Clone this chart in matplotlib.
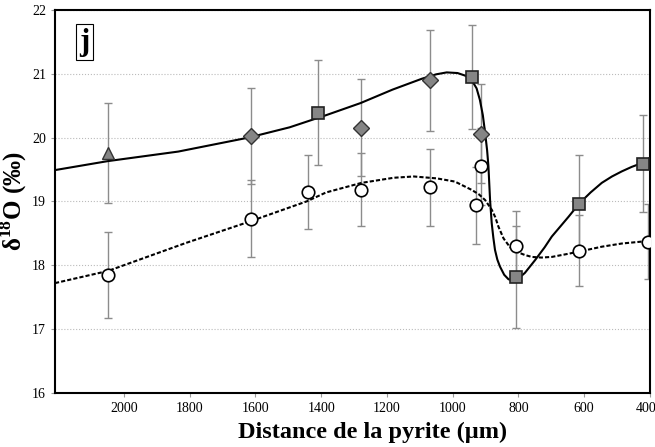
import matplotlib
matplotlib.use("Agg")
import matplotlib.pyplot as plt
import matplotlib.transforms as mtransforms

plt.rcParams['font.family'] = ['Liberation Serif', 'DejaVu Serif']
plt.rcParams['mathtext.fontset'] = 'custom'
plt.rcParams['mathtext.rm'] = 'Liberation Serif:bold'
plt.rcParams['mathtext.bf'] = 'Liberation Serif:bold'

# points
tri_x = [2050]
tri_y = [19.76]
tri_err = [0.78]

dia_x = [1615, 1280, 1070, 915]
dia_y = [20.02, 20.15, 20.90, 20.06]
dia_err = [0.75, 0.76, 0.79, 0.78]

sq_x = [1410, 940, 808, 615, 420]
sq_y = [20.39, 20.95, 17.82, 18.96, 19.59]
sq_err = [0.82, 0.82, 0.80, 0.76, 0.76]

circ_x = [2050, 1615, 1440, 1280, 1070, 930, 915, 808, 615, 405]
circ_y = [17.85, 18.73, 19.14, 19.18, 19.22, 18.94, 19.55, 18.30, 18.23, 18.37]
circ_err = [0.67, 0.60, 0.58, 0.57, 0.60, 0.60, 0.60, 0.55, 0.56, 0.59]

# courbes (tracees a la main dans l'original)
solid_x = [2210, 2050, 1835, 1620, 1496, 1385, 1280, 1183, 1094, 1050, 1018, 985,
           962, 942, 927, 917, 908, 901, 895, 891, 886, 881, 876, 871, 864, 856,
           843, 830, 815, 800, 780, 749, 720, 698, 670, 647, 614, 580, 546, 515,
           485, 455, 424, 394]
solid_y = [19.49, 19.63, 19.78, 20.00, 20.16, 20.35, 20.54, 20.75, 20.92, 20.99, 21.02, 21.01,
           20.97, 20.90, 20.77, 20.59, 20.35, 20.07, 19.80, 19.55, 19.02, 18.66, 18.43, 18.24, 18.09, 17.98,
           17.85, 17.78, 17.76, 17.79, 17.88, 18.08, 18.28, 18.45, 18.62, 18.76, 18.97, 19.14, 19.29, 19.39,
           19.47, 19.54, 19.60, 19.70]

dot_x = [2210, 2049, 1811, 1620, 1444, 1385, 1277, 1179, 1118, 1048, 993, 942,
         920, 901, 881, 870, 861, 845, 825, 800, 780, 759, 730, 698, 647, 600,
         546, 485, 424, 394]
dot_y = [17.72, 17.91, 18.35, 18.68, 19.00, 19.14, 19.29, 19.37, 19.39, 19.36, 19.31, 19.18,
         19.11, 19.02, 18.87, 18.75, 18.61, 18.42, 18.28, 18.20, 18.16, 18.13, 18.12, 18.13, 18.18, 18.23,
         18.29, 18.34, 18.37, 18.39]

fig = plt.figure(figsize=(6.55, 4.47), dpi=100)
ax = fig.add_axes([0.084, 0.121, 0.908, 0.857])

ebkw = dict(fmt='none', ecolor='#8c8c8c', elinewidth=1.0, capsize=3, capthick=1.0, zorder=2)
ax.errorbar(tri_x, tri_y, yerr=tri_err, **ebkw)
ax.errorbar(dia_x, dia_y, yerr=dia_err, **ebkw)
ax.errorbar(sq_x, sq_y, yerr=sq_err, **ebkw)
ax.errorbar(circ_x, circ_y, yerr=circ_err, **ebkw)

ax.plot(solid_x, solid_y, color='black', lw=1.5, zorder=3)
ax.plot(dot_x, dot_y, color='black', lw=1.5, linestyle=(0, (2, 1)), zorder=3)

ax.plot(circ_x, circ_y, 'o', ms=9, mfc='white', mec='black', mew=1.2, zorder=4)
ax.plot(tri_x, tri_y, '^', ms=9, mfc='#858585', mec='#333333', mew=1.0, zorder=4)
ax.plot(dia_x, dia_y, 'D', ms=8, mfc='#858585', mec='#333333', mew=1.0, zorder=4)
ax.plot(sq_x, sq_y, 's', ms=8.5, mfc='#858585', mec='#222222', mew=1.2, zorder=4)

ax.set_xlim(2210, 400)
ax.set_ylim(16, 22)
ax.set_xticks([2000, 1800, 1600, 1400, 1200, 1000, 800, 600, 400])
ax.set_yticks([16, 17, 18, 19, 20, 21, 22])
ax.tick_params(labelsize=10, length=3, color='#999999', width=0.8)
ax.yaxis.grid(True, linestyle=':', color='#bbbbbb', lw=0.8)
ax.set_axisbelow(True)
for s in ax.spines.values():
    s.set_linewidth(1.5)
    s.set_color('black')

# le dernier label "400" est colle au bord droit
fig.canvas.draw()
last = ax.get_xticklabels()[-1]
last.set_transform(last.get_transform() + mtransforms.ScaledTranslation(-4 / 100, 0, fig.dpi_scale_trans))

ax.set_xlabel('Distance de la pyrite (µm)', fontsize=17.5, fontweight='bold', labelpad=1)
ax.xaxis.set_label_coords(0.534, -0.075)
ax.set_ylabel(r'δ$^{18}$O (‰)', fontsize=18, fontweight='bold', labelpad=2)

ax.text(0.0496, 0.916, 'j', transform=ax.transAxes, fontsize=22, fontweight='bold',
        va='center', ha='center',
        bbox=dict(boxstyle='square,pad=0.12', facecolor='white', edgecolor='black', lw=0.8))

fig.savefig('out.png', dpi=100)
